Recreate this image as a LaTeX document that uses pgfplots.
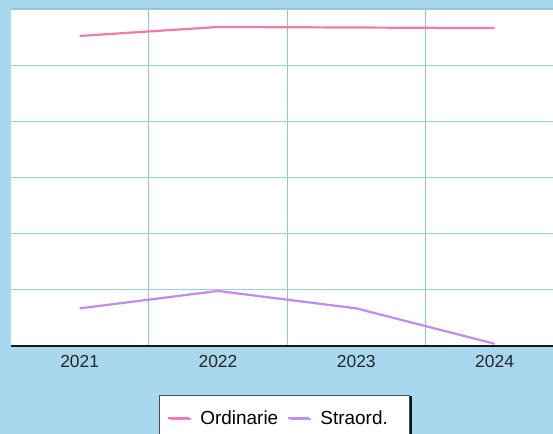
\documentclass[border=0pt]{standalone}
\usepackage{fontspec}
\setmainfont{Liberation Sans}
\usepackage{pgfplots}
\pgfplotsset{compat=1.18}
\usetikzlibrary{shadows}
\definecolor{bgblue}{HTML}{A8D8EE}
\definecolor{vgrid}{HTML}{8CC4E6}
\definecolor{hgrid}{HTML}{9CCFD6}
\definecolor{pinkline}{HTML}{F07AAE}
\definecolor{purpline}{HTML}{C08CF0}
\begin{document}
\begin{tikzpicture}[x=1bp,y=1bp]
\path[use as bounding box] (0,0) rectangle (553,434);
\fill[bgblue] (0,0) rectangle (553,434);
\clip (0,0) rectangle (553,434);
\begin{axis}[
  at={(10.5bp,88bp)}, anchor=south west,
  scale only axis, width=553.2bp, height=337bp,
  xmin=-0.5, xmax=3.5, ymin=0, ymax=6,
  xtick={0,1,2,3}, xticklabels={2021,2022,2023,2024},
  minor xtick={0.5,1.5,2.5,3.5},
  ytick={0,1,2,3,4,5,6}, yticklabels={},
  minor x grid style={vgrid, line width=1bp},
  y grid style={hgrid, line width=1.2bp},
  xminorgrids=true, ymajorgrids=true,
  major tick length=0pt, minor tick length=0pt,
  axis line style={draw=none},
  axis background/.style={fill=white},
  clip=false,
  /pgf/number format/assume math mode=true,
  tick label style={font=\fontsize{17.5}{20}\selectfont, text=black!85},
  xticklabel style={yshift=-6bp},
  legend style={at={(0.4953,-0.1454)}, anchor=north, draw=black!70, line width=0.8bp,
    font=\fontsize{19}{22}\selectfont, inner xsep=8bp, inner ysep=13bp,
    drop shadow={shadow xshift=2bp, shadow yshift=-1bp, fill=black, opacity=0.9},
    /tikz/every odd column/.append style={column sep=8bp},
    /tikz/every even column/.append style={column sep=7bp}},
  legend columns=2,
  legend image code/.code={\draw[#1] (0bp,0bp) -- (21bp,0bp);},
]
\addplot[pinkline, line width=2.2bp] coordinates {(0,5.52) (1,5.68) (2,5.67) (3,5.66)};
\addlegendentry{Ordinarie}
\addplot[purpline, line width=2.2bp] coordinates {(0,0.67) (1,0.98) (2,0.67) (3,0.04)};
\addlegendentry{Straord.\rule{12bp}{0pt}}
\draw[vgrid, line width=1bp] (axis cs:-0.5,6) -- (axis cs:3.5,6);
\draw[black!90, line width=2.5bp] (axis cs:-0.5,0) -- (axis cs:3.5,0);
\end{axis}
\end{tikzpicture}
\end{document}
